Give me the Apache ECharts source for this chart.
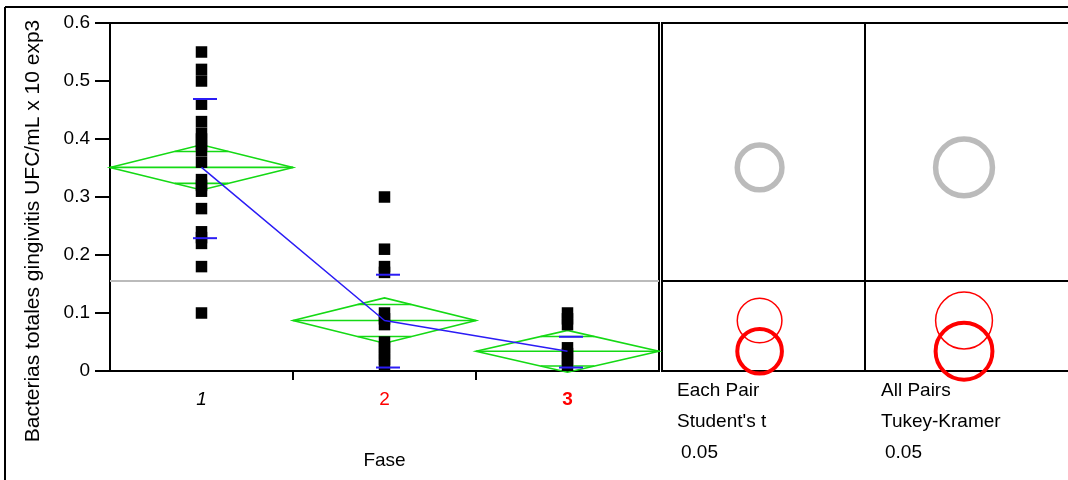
<!DOCTYPE html>
<html>
<head>
<meta charset="utf-8">
<script src="https://cdn.jsdelivr.net/npm/echarts@6/dist/echarts.min.js"></script>
<style>
  html, body { margin: 0; padding: 0; background: #fff; }
  #chart { width: 1068px; height: 480px; }
</style>
</head>
<body>
<div id="chart"></div>
<script>
// ---------- data ----------
const categories = ['1', '2', '3'];
const fase1 = [0.55, 0.52, 0.50, 0.46, 0.43, 0.41, 0.40, 0.39, 0.38, 0.36, 0.33, 0.32, 0.31, 0.28, 0.24, 0.23, 0.22, 0.18, 0.10];
const fase2 = [0.30, 0.21, 0.18, 0.17, 0.10, 0.09, 0.08, 0.05, 0.04, 0.03, 0.02, 0.01];
const fase3 = [0.10, 0.09, 0.08, 0.04, 0.03, 0.02, 0.01];
const means = [0.351, 0.087, 0.034];
const ciHalf = [0.039, 0.039, 0.036];
const sdUpper = [0.469, 0.166, 0.059];
const sdLower = [0.229, 0.006, 0.006];
const grandMean = 0.155;
const yMin = 0, yMax = 0.6, yStep = 0.1;
const radiusStudent = 0.0385;
const radiusTukey = 0.049;
const circleKind = [0, 1, 2]; // 0 = gray (different), 1 = red thin, 2 = red thick (selected)
const methodLabels = [['Each Pair', "Student's t", '0.05'], ['All Pairs', 'Tukey-Kramer', '0.05']];
const yTitle = 'Bacterias totales gingivitis UFC/mL x 10 exp3';
const xTitle = 'Fase';

// ---------- styling ----------
const FONT = '"Liberation Sans", Arial, sans-serif';
const GREEN = '#14D914';
const BLUE = '#2B1CF5';
const GRAY = '#BBBBBB';
const RED = '#FF0000';
const CIRCLE_STYLES = [
  { color: GRAY, width: 5.5 },
  { color: RED, width: 1.5 },
  { color: RED, width: 4 }
];

const groups = [fase1, fase2, fase3];
const points = [];
groups.forEach((g, i) => g.forEach(v => points.push([i, v])));

const diamondData = means.map((m, i) => [i, m, ciHalf[i]]);
const sdData = means.map((m, i) => [i, sdUpper[i], sdLower[i]]);
const meanLine = means.map((m, i) => [i, m]);
const circleData = means.map((m, i) => [0.5, m, circleKind[i]]);

function renderDiamond(params, api) {
  const i = api.value(0), m = api.value(1), ci = api.value(2);
  const bw = api.size([1, 0])[0];
  const c = api.coord([i, m]);
  const t = api.coord([i, m + ci]);
  const b = api.coord([i, m - ci]);
  const L = c[0] - bw / 2, R = c[0] + bw / 2;
  const oh = ci / Math.SQRT2;
  const ot = api.coord([i, m + oh])[1];
  const ob = api.coord([i, m - oh])[1];
  const ow = (bw / 2) * (1 - 1 / Math.SQRT2);
  const g = { stroke: GREEN, lineWidth: 1.6, fill: 'none' };
  const children = [];
  if (params.dataIndex === 0) {
    const cs = params.coordSys;
    const gy = api.coord([0, grandMean])[1];
    children.push({ type: 'line', z2: 0, shape: { x1: cs.x, y1: gy, x2: cs.x + cs.width, y2: gy }, style: { stroke: GRAY, lineWidth: 2 } });
  }
  children.push(
    { type: 'polygon', z2: 1, shape: { points: [[L, c[1]], [c[0], t[1]], [R, c[1]], [c[0], b[1]]] }, style: g },
    { type: 'line', z2: 1, shape: { x1: L, y1: c[1], x2: R, y2: c[1] }, style: g },
    { type: 'line', z2: 1, shape: { x1: c[0] - ow, y1: ot, x2: c[0] + ow, y2: ot }, style: g },
    { type: 'line', z2: 1, shape: { x1: c[0] - ow, y1: ob, x2: c[0] + ow, y2: ob }, style: g }
  );
  if (i > 0) {
    const y0 = api.coord([i, yMin])[1];
    children.push({ type: 'line', shape: { x1: L, y1: y0, x2: L, y2: y0 + 9 }, style: { stroke: '#000', lineWidth: 2 } });
  }
  return { type: 'group', children };
}

function renderSd(params, api) {
  const i = api.value(0);
  const up = api.coord([i, api.value(1)]);
  const lo = api.coord([i, api.value(2)]);
  const off = 3.5, half = 12;
  const s = { stroke: BLUE, lineWidth: 2 };
  return {
    type: 'group', children: [
      { type: 'line', shape: { x1: up[0] + off - half, y1: up[1], x2: up[0] + off + half, y2: up[1] }, style: s },
      { type: 'line', shape: { x1: lo[0] + off - half, y1: lo[1], x2: lo[0] + off + half, y2: lo[1] }, style: s }
    ]
  };
}

function makeCircleRender(radius, openRight) {
  return function (params, api) {
    const c = api.coord([api.value(0), api.value(1)]);
    const r = api.size([0, radius])[1];
    const st = CIRCLE_STYLES[api.value(2)];
    const children = [];
    if (params.dataIndex === 0) {
      const cs = params.coordSys;
      const gy = api.coord([0, grandMean])[1];
      const xr = cs.x + cs.width + (openRight ? 10 : 0);
      children.push({ type: 'line', shape: { x1: cs.x, y1: gy, x2: xr, y2: gy }, style: { stroke: '#000', lineWidth: 2 } });
      if (openRight) {
        const fr = { stroke: '#000', lineWidth: 2 };
        children.push(
          { type: 'line', shape: { x1: cs.x, y1: cs.y, x2: xr, y2: cs.y }, style: fr },
          { type: 'line', shape: { x1: cs.x, y1: cs.y + cs.height, x2: xr, y2: cs.y + cs.height }, style: fr },
          { type: 'line', shape: { x1: cs.x, y1: cs.y, x2: cs.x, y2: cs.y + cs.height }, style: fr }
        );
      }
    }
    children.push({ type: 'circle', shape: { cx: c[0], cy: c[1], r: r }, style: { stroke: st.color, lineWidth: st.width, fill: 'none' } });
    return { type: 'group', children };
  };
}

const gridBase = { show: true, borderColor: '#000', borderWidth: 2, backgroundColor: 'transparent', containLabel: false };
const hiddenAxis = { show: false, axisLine: { show: false }, axisTick: { show: false }, axisLabel: { show: false }, splitLine: { show: false } };

const chart = echarts.init(document.getElementById('chart'), null, { renderer: 'canvas' });
const option = {
  animation: false,
  backgroundColor: '#fff',
  textStyle: { fontFamily: FONT },
  grid: [
    Object.assign({ left: 110, top: 23, width: 549, height: 348 }, gridBase),
    Object.assign({ left: 662, top: 23, width: 203, height: 348 }, gridBase),
    { left: 865, top: 23, right: 0, height: 348, show: false, containLabel: false }
  ],
  xAxis: [
    {
      gridIndex: 0, type: 'category', data: categories, boundaryGap: true,
      axisLine: { show: false }, axisTick: { show: false }, splitLine: { show: false },
      axisLabel: {
        margin: 19,
        formatter: (v, idx) => '{c' + idx + '|' + v + '}',
        rich: {
          c0: { fontSize: 19, fontStyle: 'italic', color: '#000', fontFamily: FONT },
          c1: { fontSize: 19, color: RED, fontFamily: FONT },
          c2: { fontSize: 19, fontWeight: 'bold', color: RED, fontFamily: FONT }
        }
      },
      name: xTitle, nameLocation: 'middle', nameGap: 80,
      nameTextStyle: { fontSize: 19, color: '#000', fontFamily: FONT }
    },
    Object.assign({ gridIndex: 1, type: 'value', min: 0, max: 1.04 }, hiddenAxis),
    Object.assign({ gridIndex: 2, type: 'value', min: 0, max: 1.025 }, hiddenAxis)
  ],
  yAxis: [
    {
      gridIndex: 0, type: 'value', min: yMin, max: yMax, interval: yStep,
      axisLine: { show: false },
      axisTick: { show: true, inside: false, length: 15, lineStyle: { color: '#000', width: 2 } },
      axisLabel: { margin: 20, fontSize: 19, color: '#000', fontFamily: FONT },
      splitLine: { show: false }
    },
    Object.assign({ gridIndex: 1, type: 'value', min: yMin, max: yMax }, hiddenAxis),
    Object.assign({ gridIndex: 2, type: 'value', min: yMin, max: yMax }, hiddenAxis)
  ],
  series: [
    { type: 'custom', xAxisIndex: 0, yAxisIndex: 0, z: 2, renderItem: renderDiamond, data: diamondData, silent: true },
    { type: 'scatter', xAxisIndex: 0, yAxisIndex: 0, z: 3, symbol: 'rect', symbolSize: 11.5, itemStyle: { color: '#000', opacity: 1 }, data: points, silent: true },
    { type: 'line', xAxisIndex: 0, yAxisIndex: 0, z: 4, data: meanLine, symbol: 'none', lineStyle: { color: BLUE, width: 1.5 }, silent: true },
    { type: 'custom', xAxisIndex: 0, yAxisIndex: 0, z: 5, renderItem: renderSd, data: sdData, silent: true },
    { type: 'custom', xAxisIndex: 1, yAxisIndex: 1, z: 3, renderItem: makeCircleRender(radiusStudent, false), data: circleData, silent: true },
    { type: 'custom', xAxisIndex: 2, yAxisIndex: 2, z: 3, renderItem: makeCircleRender(radiusTukey, true), data: circleData, silent: true }
  ],
  graphic: [
    { type: 'line', z: 0, shape: { x1: 5, y1: 7, x2: 1200, y2: 7 }, style: { stroke: '#000', lineWidth: 2 }, silent: true },
    { type: 'line', z: 0, shape: { x1: 5, y1: 7, x2: 5, y2: 600 }, style: { stroke: '#000', lineWidth: 2 }, silent: true },
    { type: 'text', x: 33, y: 231, rotation: Math.PI / 2, style: { text: yTitle, fontSize: 21, fontFamily: FONT, fill: '#000', textAlign: 'center', textVerticalAlign: 'middle' }, silent: true },
    { type: 'text', x: 677, y: 391, style: { text: methodLabels[0][0], fontSize: 19, fontFamily: FONT, fill: '#000', textAlign: 'left', textVerticalAlign: 'middle' } },
    { type: 'text', x: 677, y: 422, style: { text: methodLabels[0][1], fontSize: 19, fontFamily: FONT, fill: '#000', textAlign: 'left', textVerticalAlign: 'middle' } },
    { type: 'text', x: 681, y: 453, style: { text: methodLabels[0][2], fontSize: 19, fontFamily: FONT, fill: '#000', textAlign: 'left', textVerticalAlign: 'middle' } },
    { type: 'text', x: 881, y: 391, style: { text: methodLabels[1][0], fontSize: 19, fontFamily: FONT, fill: '#000', textAlign: 'left', textVerticalAlign: 'middle' } },
    { type: 'text', x: 881, y: 422, style: { text: methodLabels[1][1], fontSize: 19, fontFamily: FONT, fill: '#000', textAlign: 'left', textVerticalAlign: 'middle' } },
    { type: 'text', x: 885, y: 453, style: { text: methodLabels[1][2], fontSize: 19, fontFamily: FONT, fill: '#000', textAlign: 'left', textVerticalAlign: 'middle' } }
  ]
};
chart.setOption(option);
</script>
</body>
</html>
